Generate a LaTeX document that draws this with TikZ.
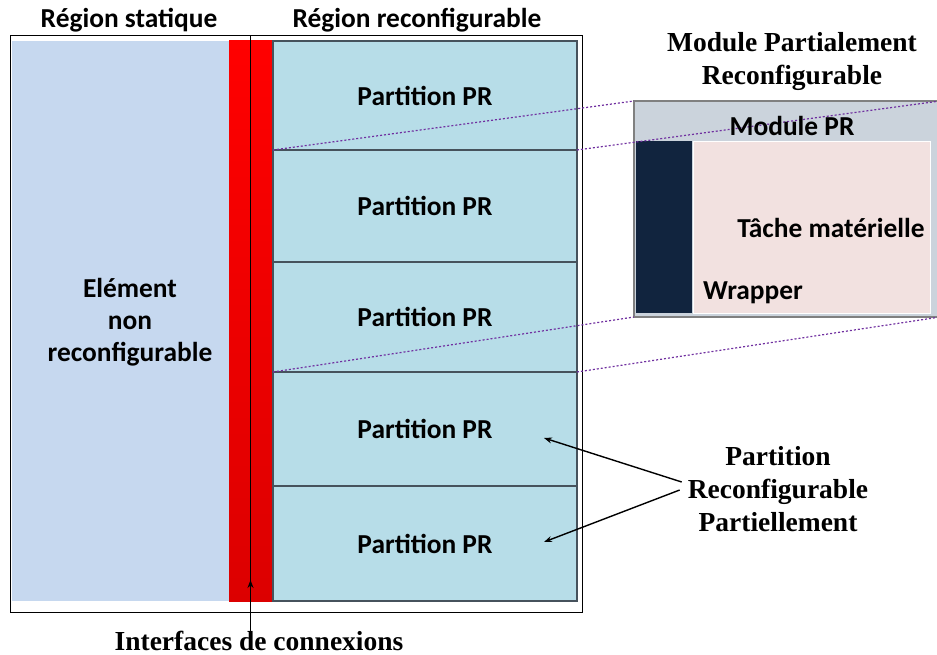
\documentclass[tikz,border=0pt]{standalone}
\usepackage{fontspec}
\setmainfont{Carlito}
\newfontfamily\timesbf{Liberation Serif}
\usetikzlibrary{positioning, arrows.meta}

\definecolor{staticfill}{RGB}{198,216,239}
\definecolor{partfill}{RGB}{183,221,232}
\definecolor{partline}{RGB}{70,82,92}
\definecolor{busred}{RGB}{255,0,0}
\definecolor{busdark}{RGB}{220,0,0}
\definecolor{modfill}{RGB}{203,211,220}
\definecolor{modline}{RGB}{128,128,128}
\definecolor{wrapnavy}{RGB}{17,36,62}
\definecolor{taskpink}{RGB}{242,225,224}
\definecolor{linkpurple}{RGB}{112,48,160}

\begin{document}
\begin{tikzpicture}[x=1pt, y=-1pt, >={Stealth[length=8pt,width=6pt]},
    zone/.style={minimum height=560pt, inner sep=0pt, outer sep=0pt},
    part/.style={draw=partline, line width=1.3pt, fill=partfill, minimum width=304pt,
      inner sep=0pt, outer sep=0pt, font=\fontsize{27.4}{30}\selectfont\bfseries},
    cal/.style={font=\fontsize{27.4}{32}\selectfont\bfseries, align=center, inner sep=0pt},
    tim/.style={font=\timesbf\fontsize{27.5}{33}\selectfont\bfseries, align=center, inner sep=0pt},
    link/.style={draw=linkpurple, line width=1.2pt, dash pattern=on 2pt off 2pt},
    pointer/.style={->, line width=1.4pt}
  ]
  \useasboundingbox (0,0) rectangle (937,655);

  % -- frame of the device --
  \node[draw, line width=1pt, minimum width=572pt, minimum height=576pt, inner sep=0pt] (outer) at (296,324) {};

  % -- static side --
  \node[zone, fill=staticfill, minimum width=217pt] (static) at (120.5,321) {};
  \node[zone, minimum width=43pt, top color=busred, bottom color=busdark] (bus) at (250.5,321) {};
  \node[cal] (elem) at (130,322) {Elément\\non\\reconfigurable};

  % -- reconfigurable partitions --
  \node[part, minimum height=109pt, anchor=north west] (p1) at (273,41) {Partition PR};
  \node[part, minimum height=112pt, below=0pt of p1] (p2) {Partition PR};
  \node[part, minimum height=110pt, below=0pt of p2] (p3) {Partition PR};
  \node[part, minimum height=114pt, below=0pt of p3] (p4) {Partition PR};
  \node[part, minimum height=115pt, below=0pt of p4] (p5) {Partition PR};

  % -- titles --
  \node[cal] (tstat) at (129,20) {Région statique};
  \node[cal] (trec) at (417,20) {Région reconfigurable};
  \node[tim] (tmod) at (792,61) {Module Partialement\\Reconfigurable};

  % -- PR module --
  \node[draw=modline, line width=1.5pt, fill=modfill, minimum width=306pt, minimum height=216pt,
    anchor=north west, inner sep=0pt, outer sep=0pt] (mod) at (634,101) {};
  \node[fill=wrapnavy, minimum width=56pt, minimum height=172pt, anchor=north west,
    inner sep=0pt] (wrap) at (636,141) {};
  \node[draw=white, line width=1pt, fill=taskpink, minimum width=237pt, minimum height=172pt,
    anchor=north west, inner sep=0pt] (task) at (693,141) {};

  % zoom lines
  \draw[link] (p2.north west) -- (mod.north west);
  \draw[link] (p2.north east) -- (mod.north east);
  \draw[link] (p3.south west) -- (mod.south west);
  \draw[link] (p3.south east) -- (mod.south east);

  \node[cal] (modpr) at (792,126) {Module PR};
  \node[cal] (tache) at (831,228) {Tâche matérielle};
  \node[cal] (wraptxt) at (753,293) {Wrapper};

  % -- interfaces --
  \node[tim] (iface) at (259,641) {Interfaces de connexions};
  \coordinate (iftip) at (250.5,580);
  \draw[line width=1pt] (bus.center |- outer.north) -- (bus.center |- iface.north);
  \draw[pointer] (bus.center |- iface.north) -- (iftip);

  % -- PR partitions callout --
  \node[tim] (prp) at (778,489) {Partition\\Reconfigurable\\Partiellement};
  \coordinate (tip4) at (544,438);
  \coordinate (tip5) at (544,542);
  \draw[pointer] ([xshift=-6pt, yshift=7pt]prp.west) -- (tip4);
  \draw[pointer] ([xshift=-8pt, yshift=-1pt]prp.west) -- (tip5);
\end{tikzpicture}
\end{document}
